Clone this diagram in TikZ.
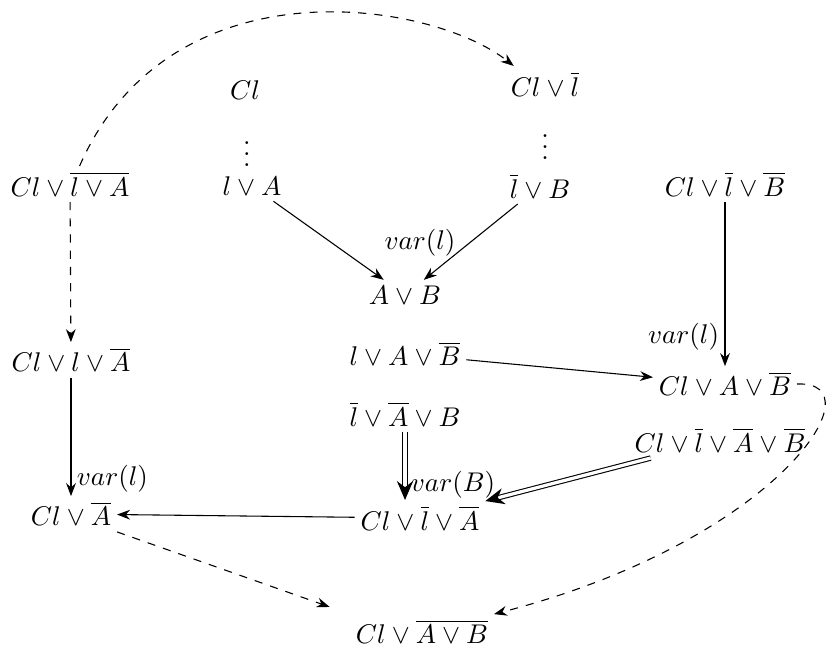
\documentclass[tikz,border=0pt]{standalone}
\usepackage{amsmath}
\usepackage{amssymb}
\usepackage{tikz}
\usetikzlibrary{arrows.meta,positioning,calc}

\begin{document}
\begin{tikzpicture}[x=0.013cm,y=-0.013cm,>=Stealth,
   cls/.style={inner sep=2pt},
   res/.style={->},
   hyp/.style={->,dashed},
   dbl/.style={double,double distance=1.2pt,-{Stealth[length=7pt,width=6pt]}},
   rlab/.style={inner sep=2pt}]
  \useasboundingbox (0,0) rectangle (834,659);
  % top row
  \node[cls] (cl) at (245,90) {$Cl$};
  \node[inner sep=0pt] (dotsl) at (247,146) {$\vdots$};
  \node[cls] (la) at (252,186) {$l\vee A$};
  \node[cls] (cln) at (545,84) {$Cl\vee\overline{l}$};
  \node[inner sep=0pt] (dotsr) at (545,139) {$\vdots$};
  \node[cls] (nlb) at (540,186) {$\overline{l}\vee B$};
  \node[cls] (clnla) at (70,184) {$Cl\vee\overline{l\vee A}$};
  \node[cls] (clnlnb) at (725,184) {$Cl\vee\overline{l}\vee\overline{B}$};
  % middle
  \node[cls] (ab) at (405,295) {$A\vee B$};
  \node[cls] (lanb) at (405,354) {$l\vee A\vee\overline{B}$};
  \node[cls] (nlnab) at (405,414) {$\overline{l}\vee\overline{A}\vee B$};
  \node[cls] (cllna) at (71,360) {$Cl\vee l\vee\overline{A}$};
  \node[cls] (clanb) at (725,384) {$Cl\vee A\vee\overline{B}$};
  \node[cls] (clnlnanb) at (720,440) {$Cl\vee\overline{l}\vee\overline{A}\vee\overline{B}$};
  % bottom
  \node[cls] (clna) at (71,514) {$Cl\vee\overline{A}$};
  \node[cls] (clnlna) at (420,518) {$Cl\vee\overline{l}\vee\overline{A}$};
  \node[cls] (clnab) at (422,632) {$Cl\vee\overline{A\vee B}$};
  % resolution steps
  \draw[res] (la) -- (ab);
  \draw[res] (nlb) -- (ab);
  \node[rlab] (v1) at (420,243) {$var(l)$};
  \draw[res] (clnlnb) -- (clanb) node[rlab,left,pos=0.82]{$var(l)$};
  \draw[res] (lanb) -- (clanb);
  \draw[dbl] (nlnab.south) -- (nlnab.south |- clnlna.north) node[rlab,right,pos=0.78]{$var(B)$};
  \draw[dbl] (clnlnanb) -- (clnlna);
  \draw[res] (clnlna) -- (clna);
  \draw[res] (cllna) -- (clna) node[rlab,right,pos=0.85]{$var(l)$};
  % dashed links
  \draw[hyp] (clnla.62) .. controls (170,-40) and (430,0) .. (cln.150);
  \draw[hyp] (clnla) -- (cllna);
  \draw[hyp,shorten >=8pt] (clna.south east) -- (clnab.north west);
  \draw[hyp] (clanb.east) .. controls (880,380) and (780,540) .. (clnab.north east);
\end{tikzpicture}
\end{document}
